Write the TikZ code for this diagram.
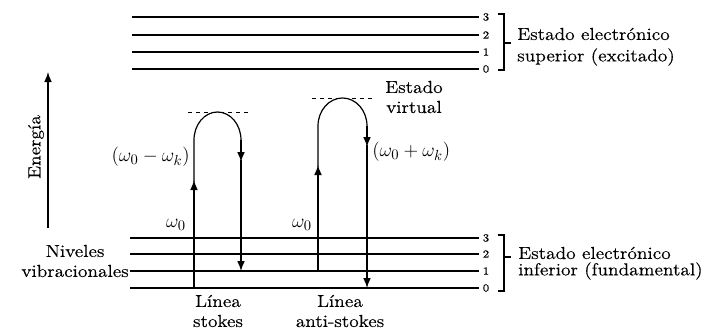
\documentclass[tikz,border=0pt]{standalone}
\usepackage{fontspec}
\setmainfont{Latin Modern Roman}[FakeStretch=1.12,FakeBold=0.4]
\usetikzlibrary{arrows.meta}
\begin{document}
\begin{tikzpicture}[x=0.75pt,y=-0.75pt,
  lvl/.style={line width=0.9pt},
  tr/.style={line width=0.9pt},
  tip/.style={-{Latex[length=7.5pt,width=5.8pt]}},
  num/.style={font=\fontsize{8}{9}\selectfont,inner sep=0pt},
  txt/.style={font=\fontsize{13}{15}\selectfont,inner sep=0pt,align=center},
  mth/.style={font=\fontsize{15.5}{17}\selectfont,inner sep=0pt},
  brk/.style={line width=0.8pt}]
\useasboundingbox (0,0) rectangle (714,332);
% upper levels
\foreach \y/\n in {17/3,35/2,52/1,69/0}{
  \draw[lvl] (132,\y) -- (479,\y);
  \node[num] at (486,\y) {\n};
}
\draw[brk] (498,14) -- (504,14) -- (504,70) -- (498,70);
\draw[brk] (504,43) -- (511,43);
\node[txt,anchor=west] (sup1) at (517,34) {Estado electrónico};
\node[txt,anchor=west] (sup2) at (517,57) {superior (excitado)};
% lower levels
\foreach \y/\n in {238/3,254/2,271/1,288/0}{
  \draw[lvl] (130,\y) -- (479,\y);
  \node[num] at (486,\y) {\n};
}
\draw[brk] (498,235) -- (504,235) -- (504,291) -- (498,291);
\draw[brk] (504,257) -- (511,257);
\node[txt,anchor=west] (inf1) at (518,253) {Estado electrónico};
\node[txt,anchor=west] (inf2) at (518,271) {inferior (fundamental)};
% energy axis
\coordinate (e0) at (48,228);
\coordinate (e1) at (48,72);
\draw[tr,tip] (e0) -- (e1);
\node[txt,rotate=90] (en) at (36,147) {Energía};
% stokes
\coordinate (s0) at (194,288);
\coordinate (s1) at (194,140);
\coordinate (s2) at (241,140);
\coordinate (s3) at (241,271);
\draw[tr,tip] (s0) -- (194,180);
\draw[tr] (194,182) -- (s1) arc[start angle=180,end angle=360,x radius=23.5,y radius=28];
\draw[tr,tip] (s2) -- (241,162);
\draw[tr,tip] (241,160) -- (s3);
\draw[tr,dashed,line width=0.6pt] (188,112) -- (248,112);
% anti-stokes
\coordinate (a0) at (318,271);
\coordinate (a1) at (318,126);
\coordinate (a2) at (367,126);
\coordinate (a3) at (367,288);
\draw[tr,tip] (a0) -- (318,165);
\draw[tr] (318,167) -- (a1) arc[start angle=180,end angle=360,x radius=24.5,y radius=28];
\draw[tr,tip] (a2) -- (367,147);
\draw[tr,tip] (367,145) -- (a3);
\draw[tr,dashed,line width=0.6pt] (312,98) -- (372,98);
% labels
\node[mth,anchor=east] (lm) at (190,157) {$(\omega_0-\omega_k)$};
\node[mth,anchor=west] (lp) at (372,152) {$(\omega_0+\omega_k)$};
\node[txt,anchor=west] (vir) at (385,97) {Estado\\virtual};
\node[mth] (w1) at (176,225) {$\omega_0$};
\node[mth] (w2) at (302,225) {$\omega_0$};
\node[txt,anchor=east] (niv) at (129,261) {Niveles\\vibracionales};
\node[txt] (ls) at (218,311) {Línea\\stokes};
\node[txt] (la) at (340,311) {Línea\\anti-stokes};
\end{tikzpicture}
\end{document}
